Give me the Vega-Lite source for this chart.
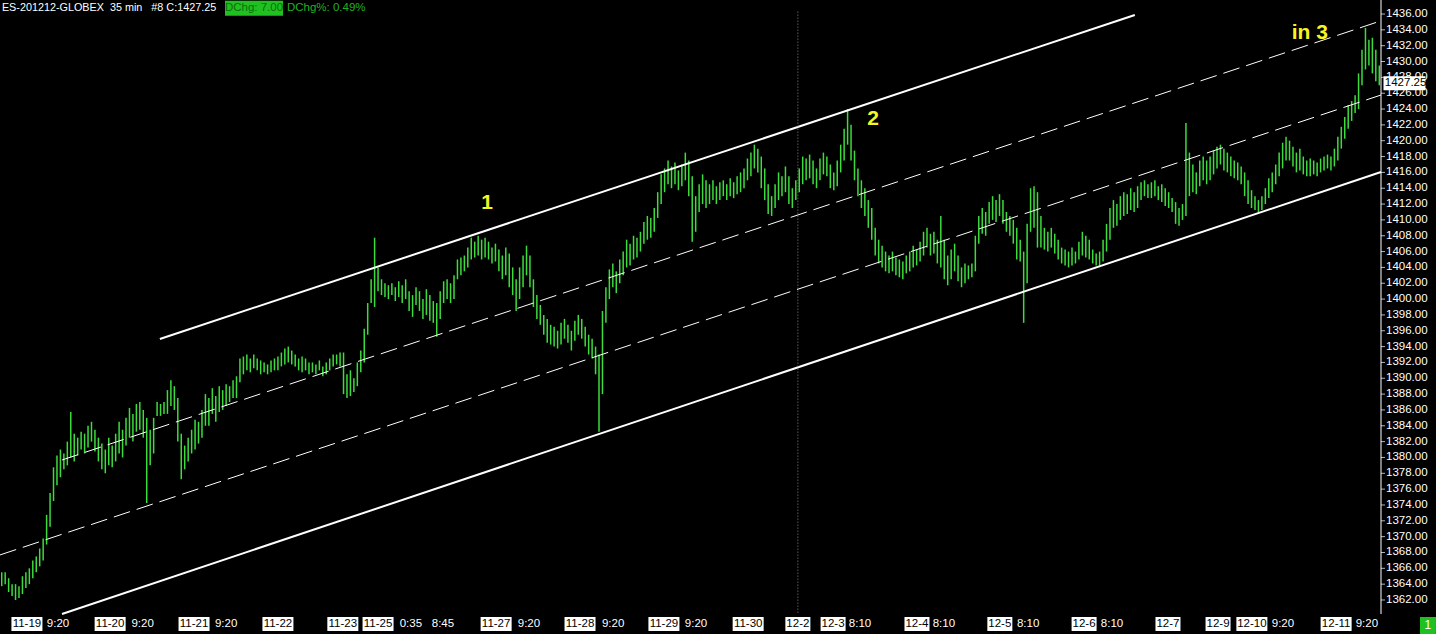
{
"$schema":"https://vega.github.io/schema/vega-lite/v6.json",
"width":1381,"height":614,
"autosize":{"type":"none"},
"padding":{"left":0,"top":0,"right":55,"bottom":20},
"background":"#000000",
"config":{"view":{"stroke":null}},
"datasets":{
"bars":[
{"h":1365.5,"l":1363.75},{"h":1365.5,"l":1364},{"h":1364.75,"l":1363},{"h":1364,"l":1362.5},{"h":1364,"l":1362},{"h":1363.75,"l":1362.25},{"h":1365,"l":1362.75},{"h":1365.5,"l":1363.5},{"h":1366,"l":1364},{"h":1367,"l":1364.75},
{"h":1367.5,"l":1365.5},{"h":1368.5,"l":1366.25},{"h":1369.75,"l":1367},{"h":1372.75,"l":1369},{"h":1375.5,"l":1371.25},{"h":1378.75,"l":1374.5},{"h":1380.25,"l":1376.5},{"h":1381,"l":1377.5},{"h":1380.5,"l":1378.5},{"h":1382,"l":1379},
{"h":1385.75,"l":1380},{"h":1383,"l":1379.5},{"h":1382.5,"l":1380.25},{"h":1383.25,"l":1381},{"h":1383,"l":1380.5},{"h":1384,"l":1381.25},{"h":1384.5,"l":1382},{"h":1383.5,"l":1380.75},{"h":1382.5,"l":1379.5},{"h":1381.75,"l":1378.5},
{"h":1381,"l":1378},{"h":1382.5,"l":1379},{"h":1381.5,"l":1378.75},{"h":1383,"l":1379.5},{"h":1384.5,"l":1380.5},{"h":1383.5,"l":1380},{"h":1385,"l":1381.5},{"h":1386.25,"l":1382.5},{"h":1385.5,"l":1382},{"h":1386.75,"l":1383.25},
{"h":1387,"l":1383.5},{"h":1386,"l":1382.5},{"h":1385,"l":1374.25},{"h":1383.5,"l":1379},{"h":1385,"l":1380.5},{"h":1387,"l":1385.25},{"h":1386.75,"l":1385.25},{"h":1387,"l":1385.5},{"h":1388.5,"l":1385.5},{"h":1389.75,"l":1386.5},
{"h":1389,"l":1386},{"h":1387.5,"l":1382},{"h":1383,"l":1377.25},{"h":1381.5,"l":1378.5},{"h":1382.5,"l":1379.5},{"h":1383.5,"l":1380.5},{"h":1384.75,"l":1381},{"h":1384.5,"l":1381.75},{"h":1386,"l":1382.5},{"h":1388,"l":1384},
{"h":1387.5,"l":1384},{"h":1388.75,"l":1385.5},{"h":1387.75,"l":1384.5},{"h":1389,"l":1385.75},{"h":1388.5,"l":1386},{"h":1389.25,"l":1386.5},{"h":1389,"l":1387},{"h":1389.75,"l":1387.5},{"h":1390.25,"l":1387.5},{"h":1392.5,"l":1389.5},
{"h":1392.75,"l":1390.5},{"h":1393,"l":1391},{"h":1392.5,"l":1390.75},{"h":1393,"l":1391.25},{"h":1392.5,"l":1391},{"h":1392.25,"l":1390.5},{"h":1392,"l":1390.75},{"h":1391.75,"l":1390.5},{"h":1392.25,"l":1390.75},{"h":1392.5,"l":1391},
{"h":1392.75,"l":1391},{"h":1393.25,"l":1391.5},{"h":1393.75,"l":1391.75},{"h":1394,"l":1392},{"h":1393.5,"l":1391.75},{"h":1393,"l":1391.5},{"h":1392.5,"l":1391},{"h":1392.75,"l":1390.75},{"h":1392.5,"l":1391},{"h":1392,"l":1390.5},
{"h":1392,"l":1390.75},{"h":1391.75,"l":1390.5},{"h":1392.25,"l":1391},{"h":1391.5,"l":1390.25},{"h":1392,"l":1390.5},{"h":1392.5,"l":1391},{"h":1393,"l":1391.5},{"h":1393,"l":1391.75},{"h":1393.25,"l":1391.5},{"h":1393.25,"l":1388},
{"h":1390.5,"l":1387.5},{"h":1391,"l":1387.75},{"h":1390,"l":1388.25},{"h":1392,"l":1389},{"h":1393.5,"l":1390.75},{"h":1396.25,"l":1392},{"h":1399.5,"l":1395.5},{"h":1402.5,"l":1399.5},{"h":1407.75,"l":1399},{"h":1404,"l":1401},
{"h":1402.5,"l":1400.5},{"h":1402,"l":1400.25},{"h":1401.75,"l":1400},{"h":1402,"l":1400.5},{"h":1401.5,"l":1399.75},{"h":1402.25,"l":1400.25},{"h":1401.75,"l":1399.5},{"h":1402.5,"l":1400},{"h":1401,"l":1398.5},{"h":1400.5,"l":1397.75},
{"h":1401.5,"l":1399.25},{"h":1401,"l":1398.5},{"h":1400,"l":1397.5},{"h":1401.25,"l":1398},{"h":1400.5,"l":1397.25},{"h":1399.75,"l":1397},{"h":1399.5,"l":1395.25},{"h":1401,"l":1397.5},{"h":1402.25,"l":1399.5},{"h":1402.5,"l":1400},
{"h":1402,"l":1399.5},{"h":1403,"l":1400},{"h":1405,"l":1402.5},{"h":1405.25,"l":1403},{"h":1405.5,"l":1403.5},{"h":1406.5,"l":1404},{"h":1407.75,"l":1405},{"h":1407.25,"l":1405.25},{"h":1408,"l":1405.5},{"h":1407.5,"l":1405},
{"h":1407.75,"l":1405.25},{"h":1407.25,"l":1405},{"h":1406.5,"l":1404.5},{"h":1407,"l":1404.75},{"h":1406.25,"l":1403.5},{"h":1405.5,"l":1402.5},{"h":1406.5,"l":1403},{"h":1405.75,"l":1401.5},{"h":1404,"l":1400.5},{"h":1402.5,"l":1398.5},
{"h":1404,"l":1400},{"h":1405.5,"l":1401.5},{"h":1406.75,"l":1403},{"h":1405.5,"l":1401.5},{"h":1402.5,"l":1399},{"h":1400.5,"l":1397.5},{"h":1399.25,"l":1396.75},{"h":1398,"l":1395.5},{"h":1397.5,"l":1394.5},{"h":1396.75,"l":1394.25},
{"h":1396.5,"l":1394},{"h":1396,"l":1393.75},{"h":1397,"l":1394.25},{"h":1397.5,"l":1395},{"h":1396.75,"l":1394.5},{"h":1396,"l":1393.5},{"h":1397.25,"l":1394.75},{"h":1398,"l":1395.5},{"h":1397.5,"l":1395},{"h":1396.5,"l":1394},
{"h":1395.5,"l":1393},{"h":1395,"l":1392.5},{"h":1394,"l":1390.5},{"h":1393,"l":1383.25},{"h":1398.5,"l":1388},{"h":1401.5,"l":1397},{"h":1403.75,"l":1400},{"h":1404.5,"l":1401.5},{"h":1403.5,"l":1400.75},{"h":1405,"l":1402},
{"h":1406,"l":1403},{"h":1407.5,"l":1404},{"h":1407,"l":1404.25},{"h":1408,"l":1405},{"h":1407.75,"l":1405.25},{"h":1408.5,"l":1406},{"h":1409.75,"l":1407},{"h":1410.5,"l":1407.5},{"h":1410.25,"l":1407.75},{"h":1411.5,"l":1408.5},
{"h":1413.5,"l":1410.25},{"h":1415.75,"l":1412},{"h":1416.5,"l":1413.5},{"h":1417.5,"l":1414.5},{"h":1416.75,"l":1414},{"h":1417.25,"l":1414.5},{"h":1416.25,"l":1413.75},{"h":1417,"l":1414.25},{"h":1418.5,"l":1415},{"h":1417.5,"l":1413},
{"h":1415.5,"l":1407.25},{"h":1413,"l":1408.5},{"h":1414.5,"l":1411},{"h":1415.75,"l":1412},{"h":1415,"l":1411.5},{"h":1414.5,"l":1412},{"h":1415,"l":1412.5},{"h":1414.25,"l":1412},{"h":1414.75,"l":1412.5},{"h":1415,"l":1413},
{"h":1414.5,"l":1412.5},{"h":1415.25,"l":1413},{"h":1414.75,"l":1412.75},{"h":1415.5,"l":1413.25},{"h":1416,"l":1413.5},{"h":1416.5,"l":1414},{"h":1417.75,"l":1415},{"h":1418.5,"l":1415.5},{"h":1419.5,"l":1416.5},{"h":1419,"l":1416},
{"h":1418,"l":1414},{"h":1416.5,"l":1412.5},{"h":1414.5,"l":1410.75},{"h":1413,"l":1410.5},{"h":1414.5,"l":1411.5},{"h":1416,"l":1412.5},{"h":1415.5,"l":1413},{"h":1416.75,"l":1413.5},{"h":1415.5,"l":1412},{"h":1414,"l":1411.5},
{"h":1415,"l":1412.5},{"h":1416.5,"l":1413.5},{"h":1418,"l":1414.5},{"h":1417.75,"l":1415},{"h":1418.25,"l":1415.25},{"h":1417.5,"l":1414.5},{"h":1416.5,"l":1414},{"h":1417.75,"l":1415},{"h":1418.5,"l":1415.75},{"h":1418,"l":1415.5},
{"h":1417,"l":1414},{"h":1416,"l":1413.75},{"h":1417.5,"l":1414.25},{"h":1419.5,"l":1416},{"h":1421.5,"l":1417.5},{"h":1424,"l":1419.5},{"h":1422,"l":1417.5},{"h":1418.75,"l":1415},{"h":1416.5,"l":1413},{"h":1415,"l":1411.5},
{"h":1414,"l":1410.5},{"h":1412.5,"l":1409},{"h":1411.5,"l":1407.5},{"h":1409,"l":1405.5},{"h":1407.5,"l":1404.5},{"h":1406.75,"l":1404},{"h":1406,"l":1403.5},{"h":1405.5,"l":1403.25},{"h":1406,"l":1403.5},{"h":1405.25,"l":1403},
{"h":1405,"l":1402.75},{"h":1404.75,"l":1402.5},{"h":1405.5,"l":1403.25},{"h":1406,"l":1403.5},{"h":1406.75,"l":1404},{"h":1406.25,"l":1404.25},{"h":1407.25,"l":1404.75},{"h":1408.5,"l":1405.5},{"h":1409,"l":1406.5},{"h":1408.25,"l":1405.5},
{"h":1408.5,"l":1405.75},{"h":1407.5,"l":1404.5},{"h":1410.5,"l":1404},{"h":1407.5,"l":1402.5},{"h":1405.5,"l":1401.75},{"h":1406.25,"l":1402.5},{"h":1407,"l":1403.5},{"h":1405.5,"l":1402.25},{"h":1404,"l":1401.5},{"h":1404.5,"l":1402},
{"h":1404.25,"l":1402.5},{"h":1404.5,"l":1402.75},{"h":1408,"l":1403.5},{"h":1410.5,"l":1407},{"h":1411.5,"l":1408.25},{"h":1411,"l":1408},{"h":1412.25,"l":1409.5},{"h":1413,"l":1410},{"h":1412.5,"l":1409.75},{"h":1413.25,"l":1410.5},
{"h":1412.5,"l":1409.5},{"h":1411,"l":1408.5},{"h":1410.5,"l":1408},{"h":1410,"l":1407},{"h":1409,"l":1405},{"h":1407.5,"l":1404.75},{"h":1406,"l":1397},{"h":1409.5,"l":1402},{"h":1414,"l":1408.5},{"h":1414.25,"l":1409},
{"h":1413.5,"l":1406.5},{"h":1410.5,"l":1406.5},{"h":1409,"l":1406.25},{"h":1408.5,"l":1406},{"h":1409,"l":1406.5},{"h":1408.25,"l":1405.75},{"h":1407.5,"l":1405},{"h":1406.5,"l":1404.5},{"h":1406.25,"l":1404.25},{"h":1406,"l":1404},
{"h":1406.5,"l":1404.25},{"h":1406,"l":1404.5},{"h":1407.25,"l":1405},{"h":1408.5,"l":1405.5},{"h":1408,"l":1405.25},{"h":1407.5,"l":1405},{"h":1406.25,"l":1404.5},{"h":1405.75,"l":1404.25},{"h":1406,"l":1404.25},{"h":1407.5,"l":1404.75},
{"h":1409.5,"l":1406},{"h":1411.5,"l":1407.5},{"h":1412.5,"l":1409},{"h":1412,"l":1409.25},{"h":1413,"l":1410},{"h":1413.5,"l":1410.5},{"h":1413.25,"l":1410.75},{"h":1414,"l":1411.25},{"h":1413.5,"l":1411},{"h":1414.25,"l":1411.5},
{"h":1414.75,"l":1412.5},{"h":1415,"l":1413},{"h":1414.5,"l":1412.75},{"h":1414.75,"l":1412.75},{"h":1415,"l":1413},{"h":1414.25,"l":1412.5},{"h":1414.5,"l":1412.25},{"h":1414,"l":1411.75},{"h":1413.5,"l":1411.5},{"h":1412.75,"l":1411},
{"h":1412.25,"l":1409.5},{"h":1411.5,"l":1409.25},{"h":1412,"l":1410},{"h":1422.25,"l":1410.5},{"h":1418.5,"l":1413},{"h":1417,"l":1413.5},{"h":1416,"l":1413.25},{"h":1417.5,"l":1414.25},{"h":1418,"l":1415},{"h":1417.5,"l":1414.5},
{"h":1418,"l":1415},{"h":1418.75,"l":1415.75},{"h":1419.25,"l":1416.5},{"h":1419.5,"l":1417},{"h":1419,"l":1416.25},{"h":1418.5,"l":1416},{"h":1418,"l":1415.5},{"h":1417.5,"l":1415.25},{"h":1417.25,"l":1415},{"h":1416.75,"l":1414.5},
{"h":1416,"l":1413},{"h":1415,"l":1412},{"h":1413.75,"l":1411.5},{"h":1413,"l":1411.25},{"h":1412.5,"l":1411},{"h":1413,"l":1411.25},{"h":1414,"l":1412},{"h":1415.25,"l":1412.75},{"h":1416,"l":1413.5},{"h":1417,"l":1414.5},
{"h":1418.5,"l":1415.5},{"h":1419.75,"l":1416.5},{"h":1420.5,"l":1417.5},{"h":1420,"l":1417.5},{"h":1419.25,"l":1416.75},{"h":1418.5,"l":1416},{"h":1419,"l":1416.25},{"h":1418,"l":1415.75},{"h":1417.5,"l":1415.5},{"h":1417.75,"l":1415.5},
{"h":1417.5,"l":1415.75},{"h":1417.25,"l":1415.5},{"h":1417.75,"l":1416},{"h":1418,"l":1416.25},{"h":1418.25,"l":1416.5},{"h":1418,"l":1416.25},{"h":1419,"l":1416.75},{"h":1420.5,"l":1417.5},{"h":1421.75,"l":1419},{"h":1423,"l":1420.25},
{"h":1424.5,"l":1421.5},{"h":1425,"l":1422.5},{"h":1425.75,"l":1423.5},{"h":1428.5,"l":1424},{"h":1431.5,"l":1427},{"h":1434.25,"l":1429},{"h":1432.75,"l":1429.5},{"h":1433,"l":1428.5},{"h":1431.5,"l":1427.5},{"h":1429.5,"l":1427}
],
"ticks":[
{"k":8.3,"t":"11-19"},{"k":17.3,"t":"9:20"},{"k":32.4,"t":"11-20"},{"k":41.8,"t":"9:20"},{"k":56.7,"t":"11-21"},{"k":66,"t":"9:20"},{"k":81,"t":"11-22"},{"k":99.8,"t":"11-23"},{"k":110,"t":"11-25"},{"k":119.5,"t":"0:35"},{"k":128.8,"t":"8:45"},
{"k":144.2,"t":"11-27"},{"k":153.7,"t":"9:20"},{"k":168.5,"t":"11-28"},{"k":178.1,"t":"9:20"},{"k":192.8,"t":"11-29"},{"k":202.1,"t":"9:20"},{"k":217.2,"t":"11-30"},{"k":231.6,"t":"12-2"},{"k":241.8,"t":"12-3"},{"k":249.6,"t":"8:10"},
{"k":266.1,"t":"12-4"},{"k":273.9,"t":"8:10"},{"k":290.1,"t":"12-5"},{"k":298.3,"t":"8:10"},{"k":314.5,"t":"12-6"},{"k":322.6,"t":"8:10"},{"k":338.8,"t":"12-7"},{"k":353.3,"t":"12-9"},{"k":363.1,"t":"12-10"},{"k":372.1,"t":"9:20"},{"k":387.5,"t":"12-11"},{"k":396.4,"t":"9:20"}
],
"prices":[
{"v":1362},{"v":1364},{"v":1366},{"v":1368},{"v":1370},{"v":1372},{"v":1374},{"v":1376},{"v":1378},{"v":1380},{"v":1382},{"v":1384},{"v":1386},{"v":1388},{"v":1390},{"v":1392},{"v":1394},{"v":1396},{"v":1398},
{"v":1400},{"v":1402},{"v":1404},{"v":1406},{"v":1408},{"v":1410},{"v":1412},{"v":1414},{"v":1416},{"v":1418},{"v":1420},{"v":1422},{"v":1424},{"v":1426},{"v":1428},{"v":1430},{"v":1432},{"v":1434},{"v":1436}
],
"lines":[
{"n":"upper","x":46.8,"p":1394.96},{"n":"upper","x":329.2,"p":1435.88},
{"n":"lower","x":18.46,"p":1360.23},{"n":"lower","x":400.5,"p":1416.05},
{"n":"mid1","x":18.46,"p":1379.68},{"n":"mid1","x":400.5,"p":1435.14},
{"n":"mid2","x":0.5,"p":1367.69},{"n":"mid2","x":400.5,"p":1425.77}
],
"notes":[
{"t":"1","x":141.6,"p":1412.14},{"t":"2","x":253.4,"p":1422.74},{"t":"in 3","x":379.9,"p":1433.6}
]
},
"layer":[
{
"data":{"name":"bars"},
"transform":[{"window":[{"op":"row_number","as":"i"}]}],
"mark":{"type":"rule","color":"#3cdc3c","strokeWidth":1.5},
"encoding":{
"x":{"field":"i","type":"quantitative","scale":{"domain":[0.5,400.5],"nice":false,"zero":false},
"axis":{"title":null,"orient":"bottom","values":[8.3,17.3,32.4,41.8,56.7,66,81,99.8,110,119.5,128.8,144.2,153.7,168.5,178.1,192.8,202.1,217.2,231.6,241.8,249.6,266.1,273.9,290.1,298.3,314.5,322.6,338.8,353.3,363.1,372.1,387.5,396.4],"labels":false,"grid":false,"domainColor":"#ffffff","domainWidth":1,"tickColor":"#ffffff","tickSize":4}},
"y":{"field":"h","type":"quantitative","scale":{"domain":[1360.23,1437.77],"nice":false,"zero":false},"axis":null},
"y2":{"field":"l"}
}
},
{
"data":{"values":[{}]},
"mark":{"type":"rule","color":"#ffffff","strokeWidth":1},
"encoding":{"x":{"datum":400.5,"type":"quantitative","axis":null},"y":{"datum":1437.77,"type":"quantitative","axis":null},"y2":{"datum":1360.23}}
},
{
"data":{"name":"prices"},
"mark":{"type":"tick","orient":"horizontal","color":"#ffffff","thickness":1,"size":4,"xOffset":2},
"encoding":{"x":{"datum":400.5,"type":"quantitative","axis":null},"y":{"field":"v","type":"quantitative","axis":null}}
},
{
"data":{"name":"prices"},
"mark":{"type":"text","color":"#ffffff","font":"Liberation Sans","fontSize":11.5,"align":"left","baseline":"middle","dx":5},
"encoding":{"x":{"datum":400.5,"type":"quantitative","axis":null},"y":{"field":"v","type":"quantitative","axis":null},"text":{"field":"v","type":"quantitative","format":".2f"}}
},
{
"data":{"name":"lines"},
"transform":[{"filter":"datum.n=='upper'||datum.n=='lower'"}],
"mark":{"type":"line","color":"#ffffff","strokeWidth":2},
"encoding":{"x":{"field":"x","type":"quantitative","axis":null},"y":{"field":"p","type":"quantitative","axis":null},"detail":{"field":"n"}}
},
{
"data":{"name":"lines"},
"transform":[{"filter":"datum.n=='mid1'||datum.n=='mid2'"}],
"mark":{"type":"line","color":"#ffffff","strokeWidth":1,"strokeDash":[17,7]},
"encoding":{"x":{"field":"x","type":"quantitative","axis":null},"y":{"field":"p","type":"quantitative","axis":null},"detail":{"field":"n"}}
},
{
"data":{"values":[{}]},
"mark":{"type":"rule","color":"#8a8a8a","strokeWidth":1,"strokeDash":[1,2]},
"encoding":{"x":{"datum":231.6,"type":"quantitative","axis":null},"y":{"datum":1436.3,"type":"quantitative","axis":null},"y2":{"datum":1360.23}}
},
{
"data":{"name":"notes"},
"mark":{"type":"text","color":"#f5f522","font":"Liberation Sans","fontWeight":"bold","fontSize":21,"align":"center","baseline":"middle"},
"encoding":{"x":{"field":"x","type":"quantitative","axis":null},"y":{"field":"p","type":"quantitative","axis":null},"text":{"field":"t"}}
},
{
"data":{"name":"ticks"},
"transform":[{"filter":"indexof(datum.t, ':') < 0"}],
"mark":{"type":"tick","orient":"horizontal","color":"#ffffff","thickness":14,"opacity":1},
"encoding":{"x":{"field":"k","type":"quantitative","axis":null},"y":{"datum":1358.97,"type":"quantitative","axis":null},
"size":{"condition":{"test":"length(datum.t) == 4","value":25},"value":31}}
},
{
"data":{"name":"ticks"},
"mark":{"type":"text","font":"Liberation Sans","fontSize":11.5,"align":"center","baseline":"middle"},
"encoding":{"x":{"field":"k","type":"quantitative","axis":null},"y":{"datum":1358.92,"type":"quantitative","axis":null},"text":{"field":"t"},
"color":{"condition":{"test":"indexof(datum.t, ':') < 0","value":"#000000"},"value":"#ffffff"}}
},
{
"data":{"values":[{}]},
"mark":{"type":"tick","orient":"horizontal","color":"#ffffff","thickness":14,"size":42,"opacity":1},
"encoding":{"x":{"datum":407.3,"type":"quantitative","axis":null},"y":{"datum":1427.25,"type":"quantitative","axis":null}}
},
{
"data":{"values":[{}]},
"mark":{"type":"text","color":"#000000","font":"Liberation Sans","fontSize":11.5,"align":"left","baseline":"middle","text":"1427.25"},
"encoding":{"x":{"datum":401.6,"type":"quantitative","axis":null},"y":{"datum":1427.25,"type":"quantitative","axis":null}}
},
{
"data":{"values":[{}]},
"mark":{"type":"tick","orient":"horizontal","color":"#20c020","thickness":17,"size":16,"opacity":1},
"encoding":{"x":{"datum":414.1,"type":"quantitative","axis":null},"y":{"datum":1358.78,"type":"quantitative","axis":null}}
},
{
"data":{"values":[{}]},
"mark":{"type":"text","color":"#ffffff","font":"Liberation Sans","fontSize":12,"align":"center","baseline":"middle","text":"1"},
"encoding":{"x":{"datum":414.1,"type":"quantitative","axis":null},"y":{"datum":1358.78,"type":"quantitative","axis":null}}
},
{
"data":{"values":[{}]},
"mark":{"type":"text","color":"#ffffff","font":"Liberation Sans","fontSize":10.8,"align":"left","baseline":"middle","text":"ES-201212-GLOBEX\u00a0\u00a035 min\u00a0\u00a0\u00a0#8 C:1427.25"},
"encoding":{"x":{"datum":1.05,"type":"quantitative","axis":null},"y":{"datum":1436.72,"type":"quantitative","axis":null}}
},
{
"data":{"values":[{}]},
"mark":{"type":"tick","orient":"horizontal","color":"#1fc01f","thickness":15,"size":58,"opacity":1},
"encoding":{"x":{"datum":74.07,"type":"quantitative","axis":null},"y":{"datum":1436.72,"type":"quantitative","axis":null}}
},
{
"data":{"values":[{}]},
"mark":{"type":"text","color":"#0b6e0b","font":"Liberation Sans","fontSize":11.5,"align":"center","baseline":"middle","text":"DChg: 7.00"},
"encoding":{"x":{"datum":74.07,"type":"quantitative","axis":null},"y":{"datum":1436.72,"type":"quantitative","axis":null}}
},
{
"data":{"values":[{}]},
"mark":{"type":"text","color":"#22b022","font":"Liberation Sans","fontSize":11.5,"align":"left","baseline":"middle","text":"DChg%: 0.49%"},
"encoding":{"x":{"datum":83.6,"type":"quantitative","axis":null},"y":{"datum":1436.72,"type":"quantitative","axis":null}}
}
]
}
